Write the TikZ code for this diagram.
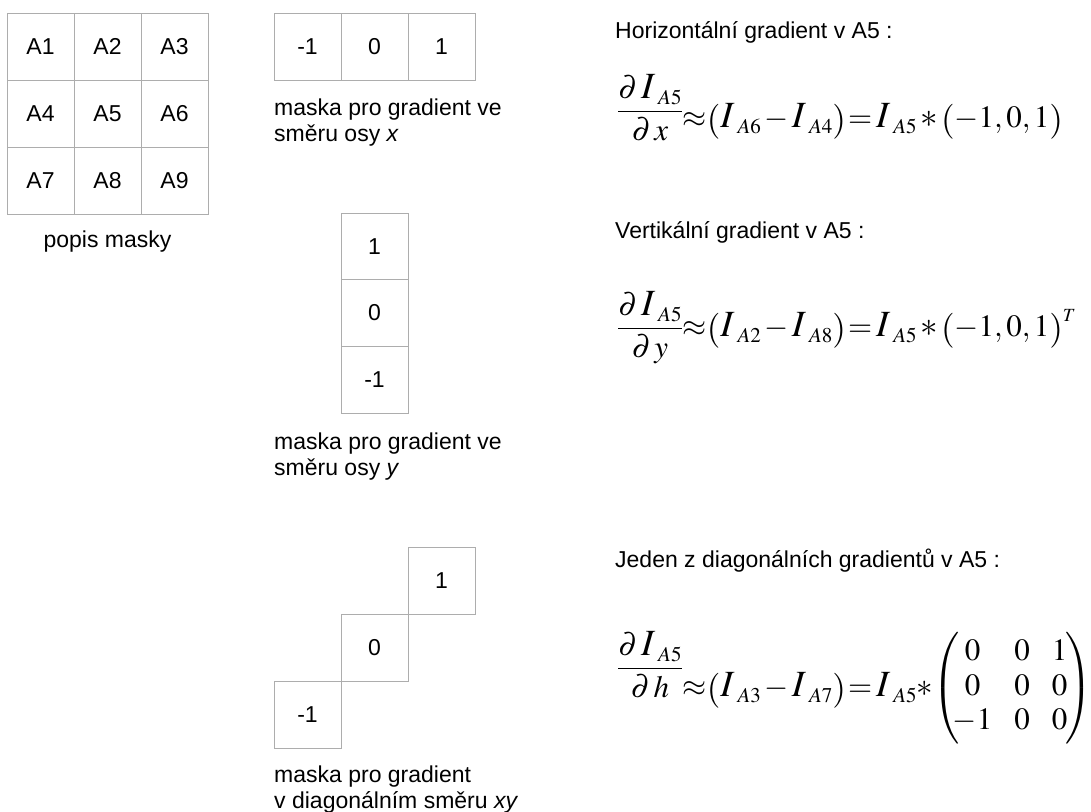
\documentclass[tikz,border=0pt]{standalone}
\usepackage{amsmath}
\usepackage{mathptmx}
\usepackage{graphicx}
\usepackage[no-math]{fontspec}
\setmainfont{Liberation Sans}
\tikzset{
  cell/.style={draw=black!32, line width=1pt, minimum width=67pt, minimum height=67pt, inner sep=0pt, font=\fontsize{23}{26}\selectfont},
  vcell/.style={cell, minimum height=66.7pt},
  lbl/.style={anchor=base west, inner sep=0pt, font=\fontsize{23}{26}\selectfont},
  eq/.style={anchor=base west, inner sep=0pt, font=\fontsize{31}{34.5}\selectfont},
}
\newcommand{\eqsp}{\thickmuskip=0mu\medmuskip=2mu}
\newcommand{\Ib}{\mbox{\fontsize{37}{37}\selectfont$I$}}
\newcommand{\Sb}[1]{\kern3pt\raisebox{-6pt}{\fontsize{21}{21}\selectfont$#1$}}
\newcommand{\IA}[1]{\Ib\Sb{#1}}
\newcommand{\Ast}{\mathbin{\mbox{\fontsize{35}{35}\selectfont$\ast$}}}
\newcommand{\AstM}{\mathord{\mbox{\fontsize{33}{33}\selectfont$\ast$}}\kern-4pt}
\newcommand{\Eqq}{\mathrel{\kern2pt=\kern4pt}}
\newcommand{\Lp}{\mathopen{\raisebox{-3pt}{\fontsize{35}{35}\selectfont$($}}}
\newcommand{\Rp}{\mathclose{\raisebox{-3pt}{\fontsize{35}{35}\selectfont$)$}}}
\newcommand{\Fr}[2]{\raisebox{#1}{$\dfrac{\partial\,\IA{A5}}{\partial\,#2}$}}
\newcommand{\MaskVec}{\Lp-1,0,1\Rp}
\newcommand{\Mat}{\left(\kern-7pt\vcenter{\offinterlineskip\halign{\hfil$##$\hfil&\kern22pt\hfil$##$\hfil&\kern22pt\hfil$##\strut$\hfil\cr
  0&0&1\cr 0&0&0\cr -1&0&0\cr}}\kern-2pt\right)}
\begin{document}
\begin{tikzpicture}[x=1pt,y=-1pt]
\useasboundingbox (0,0) rectangle (1091,811);
% 3x3 description grid
\node[cell] (a1) at (40.5,46.5) {A1};
\node[cell] (a2) at (107.5,46.5) {A2};
\node[cell] (a3) at (174.5,46.5) {A3};
\node[cell] (a4) at (40.5,113.5) {A4};
\node[cell] (a5) at (107.5,113.5) {A5};
\node[cell] (a6) at (174.5,113.5) {A6};
\node[cell] (a7) at (40.5,180.5) {A7};
\node[cell] (a8) at (107.5,180.5) {A8};
\node[cell] (a9) at (174.5,180.5) {A9};
\node[lbl, anchor=base] (popis) at (107.5,247) {popis masky};
% horizontal mask
\node[cell] (h1) at (307.5,46.5) {-1};
\node[cell] (h2) at (374.5,46.5) {0};
\node[cell] (h3) at (441.5,46.5) {1};
\node[lbl] (hl) at (274,115) {\vtop{\hbox{maska pro gradient ve}\hbox{směru osy \textit{x}}}};
% vertical mask
\node[vcell] (v1) at (374.5,246.35) {1};
\node[vcell] (v2) at (374.5,313) {0};
\node[vcell] (v3) at (374.5,379.65) {-1};
\node[lbl] (vl) at (274,449) {\vtop{\hbox{maska pro gradient ve}\hbox{směru osy \textit{y}}}};
% diagonal mask
\node[cell] (d1) at (441.5,580.5) {1};
\node[cell] (d2) at (374.5,647.5) {0};
\node[cell] (d3) at (307.5,714.5) {-1};
\node[lbl] (dl) at (274,782) {\vtop{\hbox{maska pro gradient}\hbox{v diagonálním směru \textit{xy}}}};
% equations
\node[lbl] (t1) at (615,38) {Horizontální gradient v A5 :};
\node[eq] (e1) at (617,127.5) {\hbox{\eqsp$\Fr{8pt}{x}\approx\Lp\IA{A6}-\IA{A4}\Rp\Eqq\IA{A5}\Ast\MaskVec$}};
\node[lbl] (t2) at (615,238) {Vertikální gradient v A5 :};
\node[eq] (e2) at (617,336) {\hbox{\eqsp$\Fr{0pt}{y}\approx\Lp\IA{A2}-\IA{A8}\Rp\Eqq\IA{A5}\Ast\MaskVec^{\scriptscriptstyle T}$}};
\node[lbl] (t3) at (615,567) {Jeden z diagonálních gradientů v A5 :};
\node[eq] (e3) at (617,696) {\hbox{\eqsp$\Fr{20pt}{h}\approx\Lp\IA{A3}-\IA{A7}\Rp\Eqq\IA{A5}\AstM\Mat$}};
\end{tikzpicture}
\end{document}
